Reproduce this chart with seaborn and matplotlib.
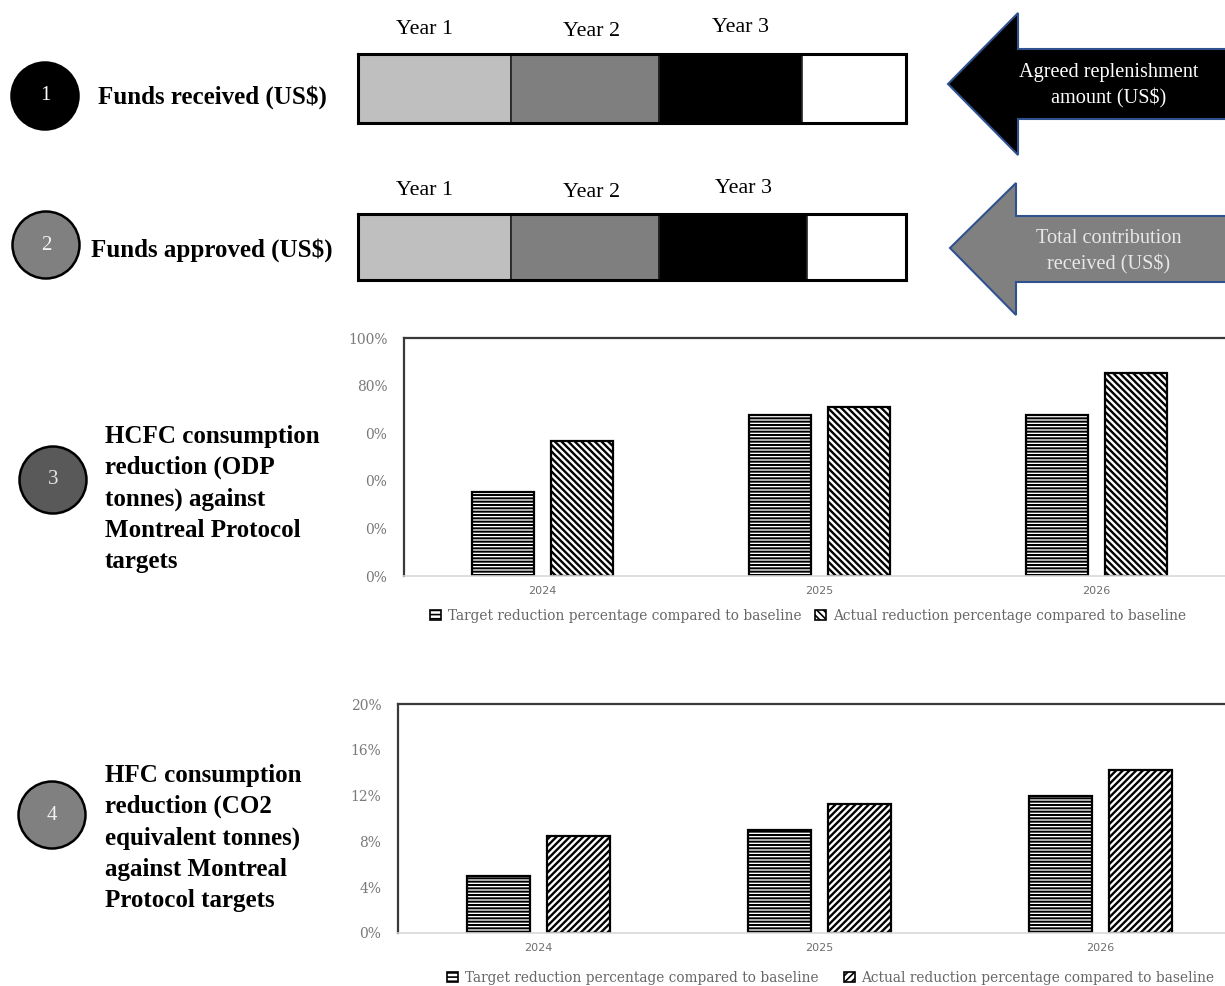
import matplotlib
matplotlib.use("Agg")
import matplotlib.pyplot as plt
from matplotlib.patches import Circle, Polygon, Patch
import seaborn as sns
import numpy as np
import pandas as pd

# ------------------------------
# Data
# ------------------------------
year_labels = ["Year 1", "Year 2", "Year 3"]
received_shares = [28, 27, 26, 19]   # last one = not yet received
approved_shares = [28, 27, 27, 18]
segment_colors = ["#bfbfbf", "#7f7f7f", "#000000", "#ffffff"]

years = ["2024", "2025", "2026"]
series = ["Target reduction percentage compared to baseline",
          "Actual reduction percentage compared to baseline"]
hcfc_target = [35.3, 67.6, 67.6]
hcfc_actual = [56.7, 71.0, 85.3]
hfc_target = [5.0, 9.0, 12.0]
hfc_actual = [8.5, 11.3, 14.2]

hcfc_ticks = [0, 20, 40, 60, 80, 100]
hcfc_ticklabels = ["0%", "0%", "0%", "0%", "80%", "100%"]
hfc_ticks = [0, 4, 8, 12, 16, 20]
hfc_ticklabels = ["0%", "4%", "8%", "12%", "16%", "20%"]

# ------------------------------
# Figure setup
# ------------------------------
sns.set_theme(style="white")
plt.rcParams["font.family"] = ["Liberation Serif", "DejaVu Serif"]
plt.rcParams["text.color"] = "black"
plt.rcParams["hatch.linewidth"] = 1.2
plt.rcParams["hatch.color"] = "black"

W, H = 1225, 986
fig = plt.figure(figsize=(W / 100, H / 100), dpi=100)


def px_axes(x0, y0, x1, y1):
    return fig.add_axes([x0 / W, 1 - y1 / H, (x1 - x0) / W, (y1 - y0) / H])


# background layer in pixel coordinates
bg = fig.add_axes([0, 0, 1, 1])
bg.set_xlim(0, W)
bg.set_ylim(H, 0)
bg.axis("off")

# numbered circles
circles = [(45, 96, "#000000", "1", "white"),
           (46, 245, "#808080", "2", "#f2f2f2"),
           (53, 480, "#595959", "3", "#e6e6e6"),
           (52, 815, "#808080", "4", "#f2f2f2")]
for cx, cy, fc, num, tc in circles:
    bg.add_patch(Circle((cx, cy), 33.5, facecolor=fc, edgecolor="black", lw=1.8))
    bg.text(cx, cy, num, ha="center", va="center", color=tc, fontsize=15)

bg.text(98, 97, "Funds received (US$)", fontsize=18, fontweight="bold",
        va="center", ha="left")
bg.text(91, 250, "Funds approved (US$)", fontsize=18, fontweight="bold",
        va="center", ha="left")
bg.text(105, 499, "HCFC consumption\nreduction (ODP\ntonnes) against\nMontreal Protocol\ntargets",
        fontsize=18, fontweight="bold", va="center", ha="left", linespacing=1.45)
bg.text(105, 838, "HFC consumption\nreduction (CO2\nequivalent tonnes)\nagainst Montreal\nProtocol targets",
        fontsize=18, fontweight="bold", va="center", ha="left", linespacing=1.45)

# arrows
arrow1 = [(948, 84), (1018, 13), (1018, 49), (1232, 49), (1232, 119), (1018, 119), (1018, 155)]
arrow2 = [(950, 248), (1016, 183), (1016, 216), (1232, 216), (1232, 282), (1016, 282), (1016, 315)]
bg.add_patch(Polygon(arrow1, closed=True, facecolor="black", edgecolor="#2f528f", lw=1.5))
bg.add_patch(Polygon(arrow2, closed=True, facecolor="#808080", edgecolor="#2f528f", lw=1.5))
bg.text(1109, 86, "Agreed replenishment\namount (US$)", color="white", fontsize=14.6,
        ha="center", va="center", linespacing=1.4)
bg.text(1109, 252, "Total contribution\nreceived (US$)", color="#e8e8e8", fontsize=14.6,
        ha="center", va="center", linespacing=1.4)

# ------------------------------
# Stacked funding bars
# ------------------------------
label_shift = [-1.8, 1.1, 1.8]
label_rise = [0.85, 0.82, 0.88]
for shares, (y0, y1) in [(received_shares, (54, 123)), (approved_shares, (214, 280))]:
    ax = px_axes(358, y0, 906, y1)
    left = 0
    centers = []
    for val, col in zip(shares, segment_colors):
        ax.barh(0, val, left=left, height=1, color=col, edgecolor="#222222", lw=1.2)
        centers.append(left + val / 2)
        left += val
    ax.set_xlim(0, sum(shares))
    ax.set_ylim(-0.5, 0.5)
    ax.set_xticks([])
    ax.set_yticks([])
    for sp in ax.spines.values():
        sp.set_visible(True)
        sp.set_color("black")
        sp.set_linewidth(2.2)
    for lab, c, s, r in zip(year_labels, centers, label_shift, label_rise):
        ax.text(c + s, r, lab, ha="center", va="center", fontsize=15.8)


# ------------------------------
# Reduction bar charts
# ------------------------------
def reduction_chart(box, target, actual, ymax, ticks, ticklabels, actual_hatch, leg_y, leg_x, colsp):
    ax = px_axes(*box)
    df = pd.DataFrame({
        "year": years * 2,
        "series": [series[0]] * 3 + [series[1]] * 3,
        "value": target + actual,
    })
    sns.barplot(data=df, x="year", y="value", hue="series", ax=ax,
                palette=["white", "white"], edgecolor="black", linewidth=1.6,
                width=0.572, gap=0.21, legend=False)
    hatches = ["-----"] * 3 + [actual_hatch] * 3
    for i, (p, h) in enumerate(zip(ax.patches, hatches)):
        p.set_hatch(h)
        if hasattr(p, "set_hatch_linewidth"):
            p.set_hatch_linewidth(1.7 if i >= 3 else 1.45)
    ax.set_xlim(-0.5, 2.5)
    ax.set_ylim(0, ymax)
    ax.set_yticks(ticks)
    ax.set_yticklabels(ticklabels, fontfamily="DejaVu Serif", fontsize=10, color="#7a7a7a")
    ax.set_xlabel("")
    ax.set_ylabel("")
    ax.tick_params(axis="x", length=0, pad=7, labelsize=8, labelcolor="#6e6e6e")
    ax.tick_params(axis="y", length=0, pad=12)
    for t in ax.get_xticklabels():
        t.set_fontfamily("DejaVu Sans")
    ax.spines["left"].set_color("#3a3a3a")
    ax.spines["left"].set_linewidth(1.6)
    ax.spines["top"].set_color("#3a3a3a")
    ax.spines["top"].set_linewidth(1.6)
    ax.spines["bottom"].set_color("#d9d9d9")
    ax.spines["bottom"].set_linewidth(1.2)
    ax.spines["right"].set_visible(False)

    handles = [Patch(facecolor="white", edgecolor="black", hatch="----", lw=1.2),
               Patch(facecolor="white", edgecolor="black", hatch=actual_hatch, lw=1.2)]
    fig.legend(handles, series, loc="center", bbox_to_anchor=(leg_x / W, 1 - leg_y / H),
               ncol=2, frameon=False, handlelength=0.8, handleheight=0.8,
               handletextpad=0.5, columnspacing=colsp,
               prop={"family": "DejaVu Serif", "size": 9.9}, labelcolor="#666666")
    return ax


reduction_chart((404, 338, 1235, 576), hcfc_target, hcfc_actual, 100,
                hcfc_ticks, hcfc_ticklabels, "\\\\\\\\\\", 616, 808, 1.0)
reduction_chart((398, 704, 1241, 933), hfc_target, hfc_actual, 20,
                hfc_ticks, hfc_ticklabels, "/////", 978, 831, 1.8)

fig.savefig("out.png", dpi=100)
